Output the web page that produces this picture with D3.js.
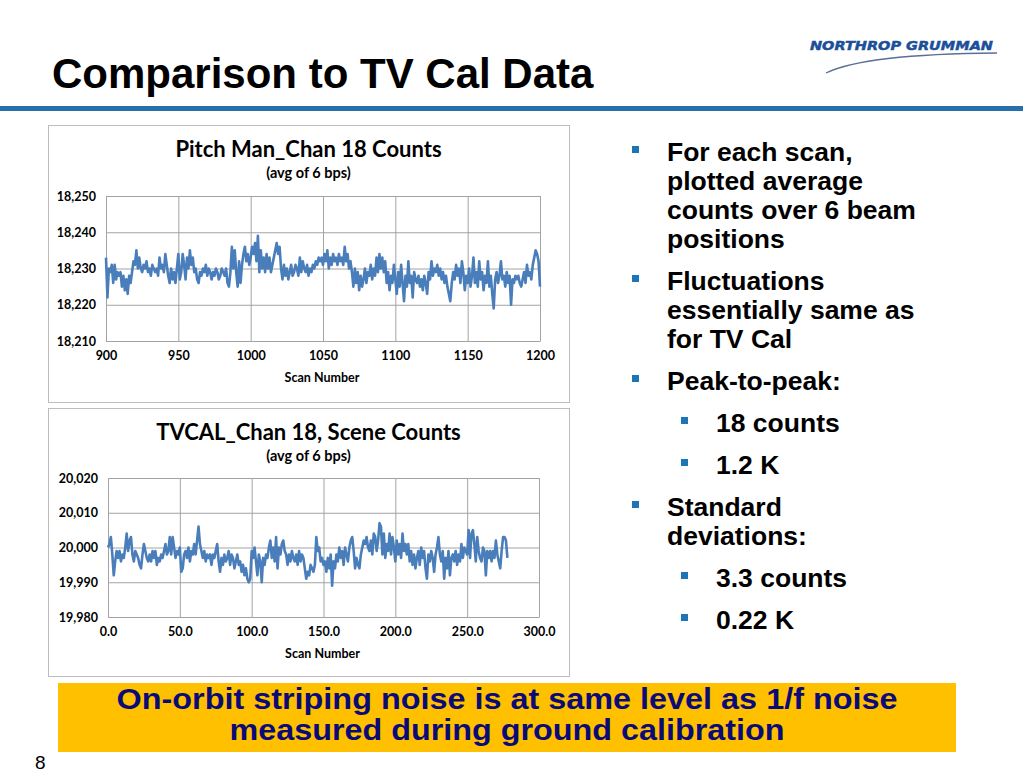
<!DOCTYPE html>
<html>
<head>
<meta charset="utf-8">
<script src="https://cdn.jsdelivr.net/npm/d3@7"></script>
<style>
	body { margin: 0; background: #fff; }
	svg { display: block; }
	.tick text { font-family: Lato, "Open Sans", sans-serif; font-weight: bold; fill: #000; }
</style>
</head>
<body>
<div id="svg-container"></div>
<script>

// DATA
// chart 1: Pitch Man, scans 900..1200
const pitchStart = 900;
const pitchCounts = [
	18233, 18222, 18230, 18229, 18231, 18226, 18231, 18227, 18229, 18228,
	18229, 18225, 18228, 18224, 18227, 18223, 18228, 18226, 18229, 18232,
	18231, 18235, 18230, 18233, 18230, 18229, 18231, 18230, 18232, 18229,
	18230, 18228, 18231, 18230, 18229, 18230, 18228, 18233, 18230, 18231,
	18229, 18234, 18231, 18228, 18226, 18230, 18227, 18229, 18226, 18230,
	18234, 18227, 18229, 18234, 18231, 18227, 18233, 18230, 18235, 18231,
	18233, 18229, 18230, 18227, 18226, 18229, 18228, 18230, 18229, 18231,
	18228, 18230, 18229, 18227, 18229, 18228, 18230, 18229, 18227, 18228,
	18230, 18229, 18228, 18230, 18226, 18225, 18229, 18236, 18230, 18235,
	18229, 18225, 18232, 18226, 18231, 18234, 18236, 18232, 18234, 18231,
	18233, 18236, 18234, 18237, 18232, 18239, 18229, 18235, 18230, 18233,
	18229, 18234, 18230, 18233, 18229, 18231, 18233, 18235, 18237, 18234,
	18236, 18230, 18227, 18231, 18228, 18230, 18227, 18229, 18231, 18228,
	18229, 18231, 18230, 18228, 18233, 18229, 18232, 18230, 18229, 18231,
	18228, 18230, 18229, 18231, 18230, 18232, 18231, 18233, 18232, 18233,
	18231, 18234, 18232, 18235, 18230, 18233, 18231, 18234, 18232, 18233,
	18231, 18234, 18232, 18233, 18231, 18236, 18232, 18234, 18230, 18232,
	18229, 18225, 18230, 18226, 18229, 18224, 18228, 18225, 18227, 18230,
	18226, 18229, 18228, 18231, 18227, 18230, 18228, 18233, 18229, 18234,
	18230, 18233, 18229, 18232, 18226, 18229, 18224, 18228, 18226, 18231,
	18227, 18223, 18229, 18225, 18231, 18226, 18221, 18228, 18225, 18232,
	18226, 18228, 18222, 18229, 18227, 18226, 18228, 18225, 18227, 18224,
	18228, 18226, 18223, 18229, 18227, 18232, 18228, 18230, 18229, 18231,
	18228, 18230, 18227, 18229, 18226, 18228, 18225, 18223, 18221, 18226,
	18229, 18227, 18231, 18228, 18230, 18226, 18232, 18229, 18224, 18228,
	18226, 18230, 18225, 18228, 18233, 18226, 18229, 18225, 18232, 18227,
	18229, 18224, 18228, 18226, 18232, 18225, 18228, 18223, 18219, 18227,
	18229, 18226, 18228, 18232, 18227, 18228, 18225, 18229, 18226, 18228,
	18220, 18227, 18226, 18228, 18227, 18228, 18226, 18225, 18227, 18229,
	18226, 18231, 18228, 18229, 18227, 18231, 18233, 18235, 18234, 18232,
	18225
];
const pitchYTicks = [18210, 18220, 18230, 18240, 18250];
const pitchXTicks = [900, 950, 1000, 1050, 1100, 1150, 1200];

// chart 2: TVCAL, scans 0..278
const tvcalStart = 0;
const tvcalCounts = [
	20000, 20001, 20003, 19998, 19992, 19996, 19999, 19997, 19999, 19996,
	19998, 19997, 20000, 20004, 19999, 20002, 20003, 19998, 19996, 19999,
	19998, 19997, 19995, 19994, 19998, 20001, 19999, 19997, 19996, 19998,
	19996, 19999, 19997, 19999, 19995, 19997, 19996, 19998, 19997, 19999,
	20001, 19998, 19999, 20003, 19998, 20003, 20000, 19997, 19999, 19998,
	20000, 19993, 19994, 19998, 19999, 19997, 20000, 19996, 19999, 19998,
	20001, 19998, 20002, 20006, 20001, 19999, 19997, 19999, 19996, 19998,
	19997, 19998, 19995, 19998, 19997, 19999, 20001, 19996, 19993, 19997,
	19995, 19998, 19996, 19997, 19999, 19995, 19998, 19997, 19994, 19996,
	19998, 19995, 19996, 19993, 19995, 19992, 19994, 19991, 19990, 19991,
	19999, 19997, 20000, 19996, 19992, 19998, 19996, 19990, 19997, 19995,
	19998, 19997, 20000, 20002, 19997, 20000, 19996, 20003, 19994, 20000,
	19998, 20001, 20002, 19999, 19998, 19995, 19998, 19996, 19999, 19997,
	19996, 19998, 19995, 19999, 19996, 19998, 19997, 19994, 19991, 19993,
	19992, 19995, 19994, 19993, 19995, 20003, 19999, 20000, 19996, 19997,
	19995, 19996, 19993, 19997, 19994, 19998, 19989, 19996, 19994, 19998,
	19996, 20000, 19997, 19999, 19995, 20000, 19998, 19996, 20000, 20002,
	20003, 19999, 19994, 19997, 19995, 19994, 19998, 20000, 20002, 20001,
	20003, 20000, 19999, 20002, 19998, 20004, 20003, 19999, 20002, 20007,
	20006, 19998, 20004, 19997, 20001, 19999, 20004, 19998, 20003, 20000,
	19996, 20002, 19998, 20001, 19997, 20004, 19999, 20001, 19998, 20001,
	19996, 19999, 19995, 19998, 19994, 19997, 19999, 19995, 20000, 19997,
	19999, 19994, 19991, 19998, 19996, 19999, 19997, 19993, 19998, 20000,
	20003, 19998, 19996, 19999, 19991, 19997, 19994, 19999, 19992, 19997,
	19998, 19996, 19999, 19995, 19998, 19996, 20001, 19997, 20000, 19999,
	19998, 20005, 19997, 20004, 20005, 20001, 19996, 20003, 19999, 19997,
	19996, 20000, 19999, 19992, 19999, 19997, 19999, 19996, 19999, 19997,
	20002, 19998, 19996, 19994, 19999, 20003, 20003, 20002, 19997
];
const tvcalYTicks = [19980, 19990, 20000, 20010, 20020];
const tvcalXTicks = [0, 50, 100, 150, 200, 250, 300];

// slide texts
const bullets = [
	{ level: 0, lines: ["For each scan,", "plotted average", "counts over 6 beam", "positions"] },
	{ level: 0, lines: ["Fluctuations", "essentially same as", "for TV Cal"] },
	{ level: 0, lines: ["Peak-to-peak:"] },
	{ level: 1, lines: ["18 counts"] },
	{ level: 1, lines: ["1.2 K"] },
	{ level: 0, lines: ["Standard", "deviations:"] },
	{ level: 1, lines: ["3.3 counts"] },
	{ level: 1, lines: ["0.22 K"] }
];
const bannerLines = ["On-orbit striping noise is at same level as 1/f noise", "measured during ground calibration"];
const bannerWidths = [781, 555];


// SLIDE
const W = 1023, H = 780;
const svg = d3.select("#svg-container")
	.append("svg")
	.attr("width", W)
	.attr("height", H);

// title
svg.append("text")
	.attr("x", 52)
	.attr("y", 88)
	.attr("font-family", "Liberation Sans, Arial, sans-serif")
	.attr("font-weight", "bold")
	.attr("font-size", 42)
	.attr("fill", "#000")
	.text("Comparison to TV Cal Data");

// blue rule under title
svg.append("rect")
	.attr("x", 0).attr("y", 106)
	.attr("width", W).attr("height", 5)
	.attr("fill", "#2470ad");

// logo
svg.append("text")
	.attr("x", 810)
	.attr("y", 50)
	.attr("font-family", "DejaVu Sans, sans-serif")
	.attr("font-weight", "900")
	.attr("font-style", "italic")
	.attr("font-size", 13)
	.attr("textLength", 183)
	.attr("lengthAdjust", "spacingAndGlyphs")
	.attr("fill", "#1c4f9a")
	.attr("stroke", "#1c4f9a")
	.attr("stroke-width", 0.5)
	.text("NORTHROP GRUMMAN");
svg.append("path")
	.attr("d", "M826,73 Q865,54 997,53")
	.attr("fill", "none")
	.attr("stroke", "#5b6f94")
	.attr("stroke-width", 1.3);


// LINE CHART
function drawChart(cfg) {
	const g = svg.append("g");

	// frame
	g.append("rect")
		.attr("x", cfg.box[0] + 0.5).attr("y", cfg.box[1] + 0.5)
		.attr("width", cfg.box[2]).attr("height", cfg.box[3])
		.attr("fill", "#fff")
		.attr("stroke", "#bcbcbc");

	const cx = cfg.box[0] + cfg.box[2] / 2;
	g.append("text")
		.attr("x", cx).attr("y", cfg.titleY)
		.attr("text-anchor", "middle")
		.attr("font-family", "Lato, sans-serif")
		.attr("font-weight", "bold")
		.attr("font-size", 22)
		.text(cfg.title);
	g.append("text")
		.attr("x", cx).attr("y", cfg.titleY + 21)
		.attr("text-anchor", "middle")
		.attr("font-family", "Lato, sans-serif")
		.attr("font-weight", "bold")
		.attr("font-size", 14.5)
		.text("(avg of 6 bps)");

	const xScale = d3.scaleLinear()
		.domain(d3.extent(cfg.xTicks))
		.range([cfg.left, cfg.right]);
	const yScale = d3.scaleLinear()
		.domain(d3.extent(cfg.yTicks))
		.range([cfg.bottom, cfg.top]);

	// y axis + horizontal grid
	const yAxis = g.append("g")
		.attr("transform", `translate(${cfg.left},0)`)
		.call(d3.axisLeft(yScale)
			.tickValues(cfg.yTicks)
			.tickFormat(d3.format(","))
			.tickSizeInner(-(cfg.right - cfg.left))
			.tickSizeOuter(0)
			.tickPadding(10));
	yAxis.selectAll(".tick line").attr("stroke", "#a3a3a3");
	yAxis.select(".domain").attr("stroke", "#a3a3a3");
	yAxis.selectAll(".tick text").attr("font-size", 12.5);

	// x axis + vertical grid
	const xAxis = g.append("g")
		.attr("transform", `translate(0,${cfg.bottom})`)
		.call(d3.axisBottom(xScale)
			.tickValues(cfg.xTicks)
			.tickFormat(cfg.xFormat)
			.tickSizeInner(-(cfg.bottom - cfg.top))
			.tickSizeOuter(0)
			.tickPadding(10));
	xAxis.selectAll(".tick line").attr("stroke", "#a3a3a3");
	xAxis.select(".domain").attr("stroke", "#a3a3a3");
	xAxis.selectAll(".tick text").attr("font-size", 12.5);

	g.append("text")
		.attr("x", (cfg.left + cfg.right) / 2 - 1)
		.attr("y", cfg.bottom + 41)
		.attr("text-anchor", "middle")
		.attr("font-family", "Lato, sans-serif")
		.attr("font-weight", "bold")
		.attr("font-size", 12.5)
		.text("Scan Number");

	// series
	const line = d3.line()
		.x((d, i) => xScale(cfg.start + i))
		.y(d => yScale(d));
	g.append("path")
		.datum(cfg.values)
		.attr("fill", "none")
		.attr("stroke", "#4a7ebb")
		.attr("stroke-width", 2.6)
		.attr("stroke-linejoin", "round")
		.attr("d", line);
}

drawChart({
	box: [48, 125, 521, 277],
	title: "Pitch Man_Chan 18 Counts",
	titleY: 157,
	left: 106, right: 540, top: 196, bottom: 341,
	xTicks: pitchXTicks, yTicks: pitchYTicks,
	xFormat: d3.format("d"),
	start: pitchStart, values: pitchCounts
});

drawChart({
	box: [48, 408, 521, 268],
	title: "TVCAL_Chan 18, Scene Counts",
	titleY: 440,
	left: 108, right: 539, top: 478, bottom: 617,
	xTicks: tvcalXTicks, yTicks: tvcalYTicks,
	xFormat: d3.format(".1f"),
	start: tvcalStart, values: tvcalCounts
});


// BULLETS
const lineGap = 29;
const paraGap = 42;
let yPos = 161;
bullets.forEach(b => {
	const tx = b.level === 0 ? 667 : 716;
	const bx = b.level === 0 ? 632 : 681;
	svg.append("rect")
		.attr("x", bx).attr("y", yPos - 15)
		.attr("width", 7).attr("height", 7)
		.attr("fill", "#1f74b5");
	b.lines.forEach((ln, i) => {
		svg.append("text")
			.attr("x", tx)
			.attr("y", yPos + i * lineGap)
			.attr("font-family", "Liberation Sans, Arial, sans-serif")
			.attr("font-weight", "bold")
			.attr("font-size", 26.5)
			.attr("fill", "#000")
			.text(ln);
	});
	yPos += (b.lines.length - 1) * lineGap + paraGap;
});


// BANNER
svg.append("rect")
	.attr("x", 58).attr("y", 683)
	.attr("width", 898).attr("height", 69)
	.attr("fill", "#ffc000");
bannerLines.forEach((ln, i) => {
	svg.append("text")
		.attr("x", 507)
		.attr("y", 709 + i * 31)
		.attr("text-anchor", "middle")
		.attr("font-family", "Liberation Sans, Arial, sans-serif")
		.attr("font-weight", "bold")
		.attr("font-size", 29)
		.attr("textLength", bannerWidths[i])
		.attr("lengthAdjust", "spacingAndGlyphs")
		.attr("fill", "#0b0b78")
		.text(ln);
});

// page number
svg.append("text")
	.attr("x", 35).attr("y", 769)
	.attr("font-family", "Liberation Sans, Arial, sans-serif")
	.attr("font-size", 19)
	.attr("fill", "#000")
	.text("8");

</script>
</body>
</html>
